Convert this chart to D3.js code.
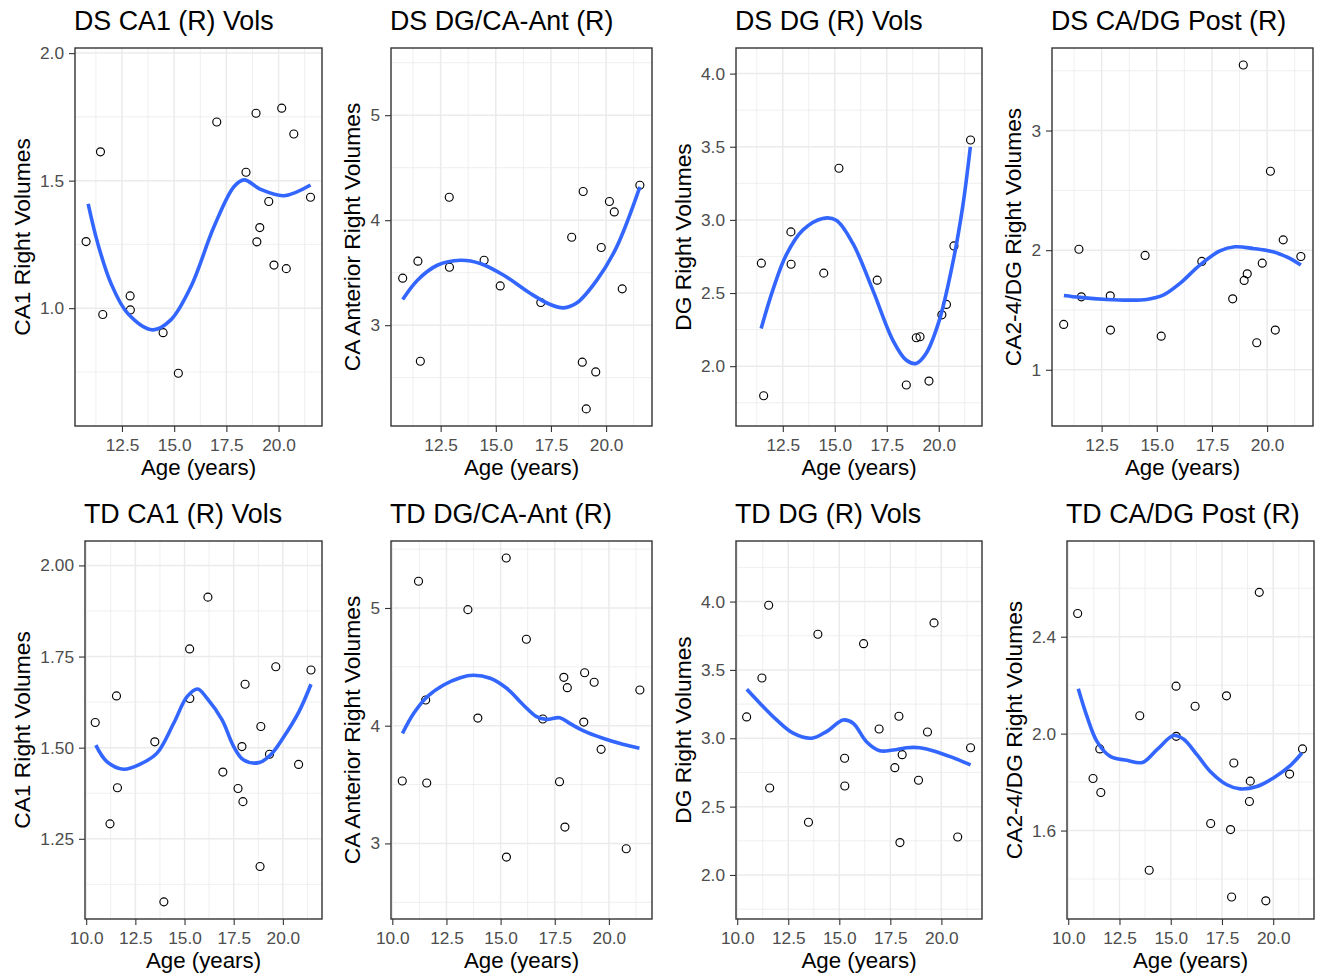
<!DOCTYPE html>
<html>
<head>
<meta charset="utf-8">
<script src="https://cdn.jsdelivr.net/npm/d3@7"></script>
<style>
  body { margin: 0; background: #fff; }
  svg { display: block; }
  text { font-family: "Liberation Sans", Arial, Helvetica, sans-serif; }
</style>
</head>
<body>
<svg id="drawing_region"></svg>
<script>
// ---- data ----
const dsAge = [10.78, 11.47, 11.58, 12.89, 12.90, 14.47, 15.20, 17.04, 18.44, 18.92, 18.96, 19.10, 19.53, 19.78, 20.15, 20.37, 20.73, 21.53];
const dsCA1      = [1.261, 1.613, 0.975, 1.048, 0.993, 0.904, 0.745, 1.730, 1.533, 1.764, 1.260, 1.316, 1.418, 1.169, 1.784, 1.155, 1.683, 1.435];
const dsCAAnt    = [3.448, 3.610, 2.657, 4.219, 3.552, 3.619, 3.374, 3.216, 3.838, 2.648, 4.273, 2.203, 2.555, 3.740, 4.178, 4.079, 3.346, 4.333];
const dsDG       = [null, 2.704, 1.798, 2.918, 2.697, 2.636, 3.353, 2.588, 1.871, 2.194, null, 2.201, 1.898, null, 2.351, 2.422, 2.822, 3.546];
const dsCADGPost = [1.379, 2.008, 1.610, 1.618, 1.332, 1.956, 1.281, 1.906, 1.593, 3.548, 1.747, 1.802, 1.226, 1.891, 2.660, 1.332, 2.086, 1.947];

const tdAge = [10.46, 11.21, 11.54, 11.59, 13.49, 13.95, 15.26, 15.27, 16.19, 16.95, 17.72, 17.92, 17.97, 18.08, 18.84, 18.88, 19.32, 19.64, 20.80, 21.43];
const tdCA1      = [1.569, 1.291, 1.642, 1.390, 1.516, 1.077, 1.771, 1.635, 1.913, 1.433, 1.388, 1.503, 1.352, 1.674, 1.174, 1.558, 1.482, 1.722, 1.454, 1.713];
const tdCAAnt    = [3.530, 5.227, 4.218, 3.513, 4.986, 4.065, 5.425, 2.884, 4.734, 4.057, 3.524, 4.411, 3.139, 4.323, 4.031, 4.450, 4.369, 3.799, 2.955, 4.303];
const tdDG       = [3.156, 3.441, 3.973, 2.636, 2.386, 3.761, 2.854, 2.651, 3.692, 3.068, 2.785, 3.161, 2.237, 2.880, null, 2.693, 3.046, 3.844, 2.278, 2.931];
const tdCADGPost = [2.496, 1.815, 1.937, 1.757, 2.074, 1.436, 2.196, 1.989, 2.113, 1.629, 2.156, 1.604, 1.326, 1.879, 1.720, 1.804, 2.583, 1.310, 1.833, 1.937];

// smoothed (loess) curves, [age, value]
const dsCA1Fit = [[10.88,1.409],[11.34,1.254],[11.97,1.098],[12.77,0.980],[13.97,0.915],[14.84,0.954],[15.80,1.084],[16.91,1.320],[17.87,1.477],[18.35,1.503],[19.14,1.466],[20.26,1.441],[21.53,1.483]];
const dsCAAntFit = [[10.78,3.245],[11.45,3.429],[12.35,3.571],[13.40,3.619],[14.30,3.588],[15.36,3.476],[16.57,3.302],[17.47,3.197],[18.07,3.165],[18.68,3.213],[19.58,3.429],[20.48,3.746],[21.53,4.317]];
const dsDGFit = [[11.46,2.258],[12.02,2.520],[12.66,2.759],[13.46,2.930],[14.42,3.010],[15.07,2.998],[15.87,2.839],[16.83,2.520],[17.79,2.178],[18.43,2.042],[18.91,2.019],[19.39,2.087],[20.03,2.315],[20.67,2.702],[21.15,3.089],[21.52,3.499]];
const dsCADGPostFit = [[10.79,1.621],[11.52,1.605],[12.73,1.588],[13.78,1.582],[14.54,1.588],[15.29,1.624],[16.05,1.722],[16.95,1.875],[17.86,1.994],[18.54,2.028],[19.37,2.014],[20.27,1.986],[21.03,1.931],[21.53,1.875]];
const tdCA1Fit = [[10.49,1.507],[11.05,1.462],[11.90,1.441],[12.75,1.455],[13.60,1.485],[14.45,1.567],[15.13,1.640],[15.67,1.661],[16.15,1.635],[16.91,1.576],[17.50,1.503],[18.01,1.466],[18.78,1.459],[19.37,1.480],[20.05,1.530],[20.82,1.599],[21.43,1.674]];
const tdCAAntFit = [[10.47,3.935],[10.99,4.105],[11.61,4.246],[12.37,4.346],[13.14,4.408],[13.75,4.428],[14.52,4.403],[15.28,4.318],[16.05,4.176],[16.66,4.077],[17.12,4.054],[17.73,4.068],[18.19,4.020],[18.81,3.958],[19.72,3.893],[20.64,3.842],[21.41,3.808]];
const tdDGFit = [[10.47,3.358],[11.11,3.256],[11.93,3.134],[12.74,3.037],[13.64,3.000],[14.37,3.049],[15.19,3.134],[15.68,3.110],[16.33,2.975],[16.98,2.909],[17.63,2.914],[18.29,2.931],[18.94,2.931],[19.75,2.902],[20.57,2.858],[21.43,2.805]];
const tdCADGPostFit = [[10.49,2.185],[10.91,2.072],[11.40,1.968],[12.05,1.906],[12.86,1.890],[13.62,1.881],[14.33,1.934],[15.14,1.992],[15.62,1.978],[16.28,1.913],[16.93,1.844],[17.74,1.789],[18.39,1.772],[19.20,1.782],[20.01,1.817],[20.83,1.868],[21.40,1.920]];

// tick labels
const xTicksDS = [12.5, 15, 17.5, 20];
const xTicksTD = [10, 12.5, 15, 17.5, 20];
const titles = ["DS CA1 (R) Vols", "DS DG/CA-Ant (R)", "DS DG (R) Vols", "DS CA/DG Post (R)",
                "TD CA1 (R) Vols", "TD DG/CA-Ant (R)", "TD DG (R) Vols", "TD CA/DG Post (R)"];
const yLabels = ["CA1 Right Volumes", "CA Anterior Right Volumes", "DG Right Volumes", "CA2-4/DG Right Volumes",
                 "CA1 Right Volumes", "CA Anterior Right Volumes", "DG Right Volumes", "CA2-4/DG Right Volumes"];
const yTicks = [[1.0, 1.5, 2.0], [3, 4, 5], [2.0, 2.5, 3.0, 3.5, 4.0], [1, 2, 3],
                [1.25, 1.5, 1.75, 2.0], [3, 4, 5], [2.0, 2.5, 3.0, 3.5, 4.0], [1.6, 2.0, 2.4]];
const yFormats = [".1f", ".0f", ".1f", ".0f", ".2f", ".0f", ".1f", ".1f"];
const yLimits = [[0.538, 2.02], [2.04, 5.64], [1.591, 4.175], [0.530, 3.69],
                 [1.030, 2.067], [2.358, 5.569], [1.678, 4.443], [1.235, 2.795]];

// ---- layout ----
const W = 1320, H = 976;
const panelBoxes = [
    [75, 322, 48, 426], [391, 652, 48, 426], [736, 982, 48, 426], [1052, 1313, 48, 426],
    [85, 322, 541, 919], [391, 652, 541, 919], [736, 982, 541, 919], [1067, 1314, 541, 919]
];
const xLimitsDS = [10.25, 22.08];
const xLimitsTD = [9.94, 21.99];

const values = [dsCA1, dsCAAnt, dsDG, dsCADGPost, tdCA1, tdCAAnt, tdDG, tdCADGPost];
const fits = [dsCA1Fit, dsCAAntFit, dsDGFit, dsCADGPostFit, tdCA1Fit, tdCAAntFit, tdDGFit, tdCADGPostFit];

const svg = d3.select('#drawing_region').attr('width', W).attr('height', H);

function minorOf(ticks, dom) {
    const s = ticks[1] - ticks[0];
    const m = ticks.map(t => t - s / 2).concat([ticks[ticks.length - 1] + s / 2]);
    return m.filter(v => v > dom[0] && v < dom[1]);
}

function drawPanel(i) {
    const box = panelBoxes[i];
    const ds = i < 4;
    const ages = ds ? dsAge : tdAge;
    const xTicks = ds ? xTicksDS : xTicksTD;
    const xDom = ds ? xLimitsDS : xLimitsTD;
    const w = box[1] - box[0], h = box[3] - box[2];

    const g = svg.append('g').attr('transform', `translate(${box[0]},${box[2]})`);
    const x = d3.scaleLinear().domain(xDom).range([0, w]);
    const y = d3.scaleLinear().domain(yLimits[i]).range([h, 0]);

    // grid
    const grid = g.append('g');
    grid.selectAll('.xminor').data(minorOf(xTicks, xDom)).join('line')
        .attr('x1', d => x(d)).attr('x2', d => x(d)).attr('y1', 0).attr('y2', h)
        .attr('stroke', '#ebebeb').attr('stroke-width', 0.8);
    grid.selectAll('.yminor').data(minorOf(yTicks[i], yLimits[i])).join('line')
        .attr('y1', d => y(d)).attr('y2', d => y(d)).attr('x1', 0).attr('x2', w)
        .attr('stroke', '#ebebeb').attr('stroke-width', 0.8);
    grid.selectAll('.xmajor').data(xTicks.filter(t => t > xDom[0])).join('line')
        .attr('x1', d => x(d)).attr('x2', d => x(d)).attr('y1', 0).attr('y2', h)
        .attr('stroke', '#ebebeb').attr('stroke-width', 1.5);
    grid.selectAll('.ymajor').data(yTicks[i]).join('line')
        .attr('y1', d => y(d)).attr('y2', d => y(d)).attr('x1', 0).attr('x2', w)
        .attr('stroke', '#ebebeb').attr('stroke-width', 1.5);

    // points
    const pts = ages.map((a, k) => ({ x: a, y: values[i][k] })).filter(d => d.y !== null);
    g.selectAll('circle').data(pts).join('circle')
        .attr('cx', d => x(d.x)).attr('cy', d => y(d.y)).attr('r', 4)
        .attr('fill', 'none').attr('stroke', '#000').attr('stroke-width', 1.15);

    // smooth
    const line = d3.line().x(d => x(d[0])).y(d => y(d[1])).curve(d3.curveCatmullRom);
    g.append('path').datum(fits[i]).attr('d', line)
        .attr('fill', 'none').attr('stroke', '#3366ff').attr('stroke-width', 3.6)
        .attr('stroke-linecap', 'butt');

    // border
    g.append('rect').attr('width', w).attr('height', h)
        .attr('fill', 'none').attr('stroke', '#333333').attr('stroke-width', 1.4);

    // axes
    const xAxis = d3.axisBottom(x).tickValues(xTicks.filter(t => t > xDom[0]))
        .tickFormat(d3.format('.1f')).tickSize(6).tickPadding(6.5);
    const xg = g.append('g').attr('transform', `translate(0,${h})`).call(xAxis);
    const yAxis = d3.axisLeft(y).tickValues(yTicks[i])
        .tickFormat(d3.format(yFormats[i])).tickSize(6).tickPadding(5);
    const yg = g.append('g').call(yAxis);
    [xg, yg].forEach(a => {
        a.select('.domain').remove();
        a.selectAll('.tick line').attr('stroke', '#333333').attr('stroke-width', 1.1);
        a.selectAll('.tick text').attr('fill', '#4d4d4d')
            .style('font-size', '17.3px').style('font-family', '"Liberation Sans", Arial, sans-serif');
    });

    // titles
    g.append('text').attr('x', -1).attr('y', -18)
        .attr('fill', '#000').style('font-size', '26.8px').text(titles[i]);
    g.append('text').attr('x', w / 2).attr('y', h + 49).attr('text-anchor', 'middle')
        .attr('fill', '#000').style('font-size', '22.3px').text('Age (years)');
    const bb = yg.node().getBBox();
    g.append('text').attr('transform', `translate(${bb.x - 10},${h / 2}) rotate(-90)`)
        .attr('text-anchor', 'middle').attr('fill', '#000').style('font-size', '22.8px')
        .text(yLabels[i]);
}

for (let i = 0; i < 8; i++) drawPanel(i);
</script>
</body>
</html>
